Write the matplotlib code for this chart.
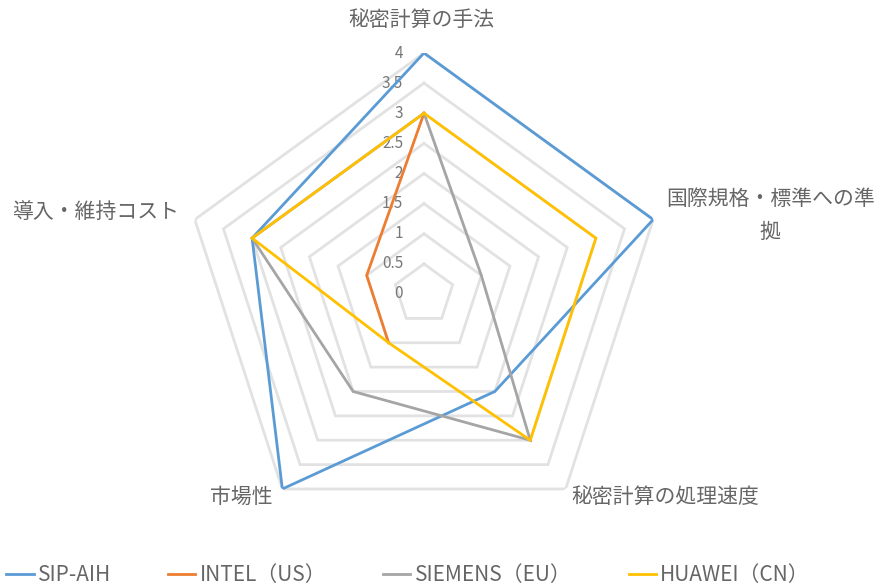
import numpy as np
import matplotlib.pyplot as plt
from matplotlib.lines import Line2D

plt.rcParams['font.family'] = ['Noto Sans CJK JP', 'DejaVu Sans']

# data (Excel style radar)
categories = ['秘密計算の手法', '国際規格・標準への準\n拠', '秘密計算の処理速度', '市場性', '導入・維持コスト']
series_names = ['SIP-AIH', 'INTEL（US）', 'SIEMENS（EU）', 'HUAWEI（CN）']
sip_aih = [4, 4, 2, 4, 3]
intel = [3, np.nan, np.nan, 1, 1]   # two empty cells -> gaps
siemens = [3, 1, 3, 2, 3]
huawei = [3, 3, 3, 1, 3]
r_ticks = [0, 0.5, 1, 1.5, 2, 2.5, 3, 3.5, 4]

colors = ['#5B9BD5', '#ED7D31', '#A5A5A5', '#FFC000']
text_color = '#666666'
grid_color = '#e2e2e2'

W, H = 877, 588
cx, cy, R = 424, 294, 241   # centre and radius in pixels

fig = plt.figure(figsize=(W / 100, H / 100), dpi=100)
ax = fig.add_axes([(cx - R) / W, (H - cy - R) / H, 2 * R / W, 2 * R / H], projection='polar')
ax.set_theta_offset(np.pi / 2)
ax.set_theta_direction(-1)
ax.set_ylim(0, 4)
ax.set_axis_off()

n = len(categories)
angles = np.arange(n) * 2 * np.pi / n
closed = np.append(angles, angles[0])

# polygon gridlines
for t in r_ticks[1:]:
    ax.plot(closed, [t] * (n + 1), color=grid_color, lw=2.0, zorder=1, solid_joinstyle='miter')

# value labels along the top axis
for t in r_ticks:
    ax.annotate(f'{t:g}', xy=(0, t), xytext=(-15, 0), textcoords='offset points',
                ha='right', va='center', fontsize=11, color='#777777')

# series
all_series = [sip_aih, intel, siemens, huawei]
for vals, name, c in zip(all_series, series_names, colors):
    v = np.append(vals, vals[0])
    ax.plot(closed, v, color=c, lw=2.0, zorder=3, label=name, solid_joinstyle='miter')

# category labels
label_pos = [
    ((-2, 24), 'center', 'center'),
    ((9, 3), 'left', 'center'),
    ((4, -6), 'left', 'center'),
    ((-7, -6), 'right', 'center'),
    ((-11, 5.5), 'right', 'center'),
]
for ang, lab, (off, ha, va) in zip(angles, categories, label_pos):
    ax.annotate(lab, xy=(ang, 4), xytext=off, textcoords='offset points',
                ha=ha, va=va, multialignment='center', fontsize=15, color=text_color,
                linespacing=1.6, annotation_clip=False)

handles = [Line2D([0], [0], color=c, lw=2.0) for c in colors]
fig.legend(handles, series_names, loc='center', bbox_to_anchor=(408 / W, (H - 575) / H),
           ncol=4, frameon=False, fontsize=15, handlelength=1.3, handletextpad=0.2,
           columnspacing=2.75, labelcolor=text_color)

fig.savefig('out.png', dpi=100)
